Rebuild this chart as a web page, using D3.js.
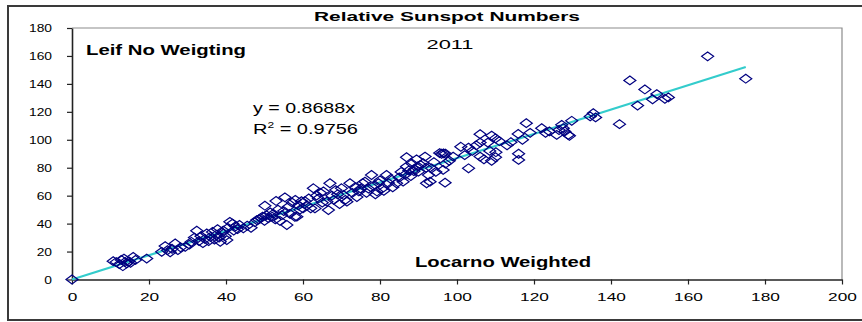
<!DOCTYPE html>
<html>
<head>
<meta charset="utf-8">
<script src="https://cdn.jsdelivr.net/npm/d3@7"></script>
<style>
  html, body { margin: 0; padding: 0; background: #fff; }
  svg { display: block; }
  text { font-family: "Liberation Sans", Arial, sans-serif; fill: #000; }
</style>
</head>
<body>
<svg id="chart" width="862" height="322"></svg>
<script>
// Locarno weighted (x) vs. Leif unweighted (y) relative sunspot numbers, 2011
const locarno = [
  0,
  10.7, 11.5, 12.3, 12.8, 13.2, 13.8, 13.5, 14.2, 14.8, 15.2, 15.9, 16.5, 19.4,
  23.3, 24.2, 24.8, 25.5, 26, 26.8, 27.5, 28.2, 29.4, 30.5,
  31, 31.8, 32.4, 33, 33.5, 34, 34.5, 35, 35.5, 36, 36.5, 37, 37.5, 37.8, 38.2, 38.5, 39, 39.3, 39.8, 40.2,
  40.5, 41, 41.7, 42, 42.5, 43, 43.5, 44.5, 45.5, 46.5, 47.5, 48, 48.5, 49, 49.5, 50,
  50.1, 50.5, 51, 51.5, 52, 52.3, 52.8, 53, 53.5, 54, 54.5, 55, 55.3, 55.8, 56.2, 56.6, 57.2, 57.9, 58.4, 58, 58.8, 59.2, 59.6,
  60, 60.5, 61, 61.5, 62, 62.7, 63.1, 63.5, 64, 64.5, 65, 65.3, 66.2, 66.6, 67, 67.5, 68, 68.5, 69, 69.5,
  70, 70.5, 71, 71.4, 72.2, 72.8, 73.5, 74, 74.5, 75, 75.5, 76.1, 76.5, 77, 77.8, 78.3, 78.8, 79.2, 79.6, 80,
  80.5, 81, 81.7, 82.2, 82.8, 83.3, 84.3, 85, 85.5, 86, 86.5, 86.9, 86.9, 87.5, 88, 88.3, 88.8, 89, 89.5, 89.8,
  90, 90.5, 91.2, 91.7, 92, 92.1, 92.6, 93, 93.4, 94, 94.5, 95.5, 96, 96.5, 96.4, 97, 97, 96.9, 98, 99,
  101, 102, 103, 103, 104, 105, 106, 106, 106, 107, 108, 108.5, 109, 109, 110, 110.1, 110, 111,
  113, 114, 115.9, 116, 116, 117, 118, 119,
  122, 123, 124, 125.9, 126.5, 127.2, 127.6, 128, 128.9, 129.2, 129.8,
  134.6, 135.4, 136, 142.2, 144.9, 146.9, 148.8, 150.8, 151.9, 154, 154.9, 165.1, 175
];
const leif = [
  0,
  13.1, 12.5, 11, 14, 9.5, 12.6, 15, 11.5, 13, 12, 16.2, 14, 15,
  19.8, 23.9, 21, 19.5, 22, 25.8, 21, 23, 23.4, 25,
  27, 30, 34.9, 27.5, 31, 26, 29, 33, 27.5, 30.5, 34, 28.5, 32, 36, 30, 27, 33.5, 35, 31, 28.2,
  37, 41.3, 40, 35, 38, 36, 39, 36.6, 38.5, 37, 41, 42.5, 43, 44, 45, 42,
  52.8, 46, 44, 48, 45, 47, 43, 56.2, 50, 42, 46, 49, 58.8, 39, 52, 47, 55, 44.9, 45, 57, 53, 50, 56,
  50.9, 56, 53, 58, 51, 65.3, 50.9, 60, 58, 62, 55, 63, 55.7, 49.7, 68.9, 60, 57, 64, 61, 54,
  65.3, 60.5, 57, 55.7, 68.9, 62, 66, 59, 63, 65, 69, 70, 62, 65, 74.8, 67, 61, 63, 69, 71,
  65, 63.5, 74.8, 69, 72, 66, 68.9, 73, 77, 70, 75, 87.5, 80.8, 78, 74, 83, 77.5, 79, 86, 81,
  77.2, 82, 83.2, 88, 80, 68.9, 74.8, 70, 79.6, 84, 77, 90.5, 90, 90.3, 78.4, 90, 83, 69.3, 85, 88,
  95, 89, 94.4, 79.6, 92, 96, 104, 98, 88, 86, 98, 92, 103, 85, 101, 91.1, 87.5, 99,
  96, 98.3, 104.2, 90, 85.6, 100, 111.9, 105,
  108.3, 105, 106, 103.5, 107, 110.7, 108.3, 106, 103.5, 102.8, 113.6,
  116.7, 119, 116, 111.2, 142.5, 124.5, 136, 129, 132.7, 129.3, 130.3, 159.7, 143.7
];
const xTicks = [0, 20, 40, 60, 80, 100, 120, 140, 160, 180, 200];
const yTicks = [0, 20, 40, 60, 80, 100, 120, 140, 160, 180];
const slope = 0.8688;
const rSquared = 0.9756;

const svg = d3.select("#chart");
const W = 862, H = 322;
const plot = { left: 72, right: 842, top: 28, bottom: 279.5 };

const x = d3.scaleLinear().domain([0, 200]).range([plot.left, plot.right]);
const y = d3.scaleLinear().domain([0, 180]).range([plot.bottom, plot.top]);

svg.append("rect").attr("width", W).attr("height", H).attr("fill", "#fff");

// outer chart frame (open on the right)
svg.append("path")
  .attr("d", `M${W},6 H8 V320 H${W}`)
  .attr("fill", "none").attr("stroke", "#3a3a3a").attr("stroke-width", 2);

// plot area border (top and right sides)
svg.append("path")
  .attr("d", `M${plot.left},${plot.top} H${plot.right} V${plot.bottom}`)
  .attr("fill", "none").attr("stroke", "#8c8c8c").attr("stroke-width", 1.2);

// horizontal stretch for text, keeping the glyph height
function stretch(sel, factor) {
  sel.each(function () {
    const w = this.getComputedTextLength();
    d3.select(this).attr("textLength", w * factor).attr("lengthAdjust", "spacingAndGlyphs");
  });
}
function fitWidth(sel, width) {
  sel.attr("textLength", width).attr("lengthAdjust", "spacingAndGlyphs");
}

// axes
const xAxis = d3.axisBottom(x).tickValues(xTicks).tickSize(5).tickSizeOuter(0).tickPadding(9);
const yAxis = d3.axisLeft(y).tickValues(yTicks).tickSize(5).tickSizeOuter(0).tickPadding(15);

const gx = svg.append("g").attr("transform", `translate(0,${plot.bottom})`).call(xAxis);
const gy = svg.append("g").attr("transform", `translate(${plot.left},0)`).call(yAxis);

[gx, gy].forEach(g => {
  g.select(".domain").attr("stroke", "#222").attr("stroke-width", 1.6);
  g.selectAll(".tick line").attr("stroke", "#222").attr("stroke-width", 1.2);
  g.selectAll(".tick text")
    .attr("font-family", "Liberation Sans, Arial, sans-serif")
    .attr("font-size", 11.5).attr("fill", "#111");
});
gx.selectAll(".tick text").attr("dy", "0.68em").call(stretch, 1.5);
gy.selectAll(".tick text").call(stretch, 1.2);

// fitted line through the origin, y = slope * x, over the data range
const xMax = d3.max(locarno);
svg.append("line")
  .attr("x1", x(0)).attr("y1", y(0))
  .attr("x2", x(xMax)).attr("y2", y(slope * xMax))
  .attr("stroke", "#33cccc").attr("stroke-width", 2.2);

// scatter markers: open diamonds
const diamond = "M0,-4.4 L6,0 L0,4.4 L-6,0 Z";
svg.append("g").selectAll("path")
  .data(d3.zip(locarno, leif))
  .join("path")
  .attr("d", diamond)
  .attr("transform", d => `translate(${x(d[0])},${y(d[1])})`)
  .attr("fill", "none").attr("stroke", "#000080").attr("stroke-width", 1.2);

// titles and annotations
svg.append("text").attr("x", 447).attr("y", 21).attr("text-anchor", "middle")
  .attr("font-weight", "bold").attr("font-size", 12)
  .text("Relative Sunspot Numbers").call(fitWidth, 266);

svg.append("text").attr("x", 450).attr("y", 49).attr("text-anchor", "middle")
  .attr("font-size", 12.5)
  .text("2011").call(fitWidth, 47);

svg.append("text").attr("x", 86).attr("y", 55)
  .attr("font-weight", "bold").attr("font-size", 14.5)
  .text("Leif No Weigting").call(fitWidth, 160);

svg.append("text").attr("x", 415).attr("y", 267)
  .attr("font-weight", "bold").attr("font-size", 14)
  .text("Locarno Weighted").call(fitWidth, 176);

svg.append("text").attr("x", 253).attr("y", 113)
  .attr("font-size", 15)
  .text(`y = ${slope}x`).call(fitWidth, 102);

const r2 = svg.append("text").attr("x", 253).attr("y", 133.5).attr("font-size", 15);
r2.append("tspan").text("R");
r2.append("tspan").attr("font-size", 9).attr("dy", -6).text("2");
r2.append("tspan").attr("dy", 6).text(` = ${rSquared}`);
fitWidth(r2, 105);
</script>
</body>
</html>
